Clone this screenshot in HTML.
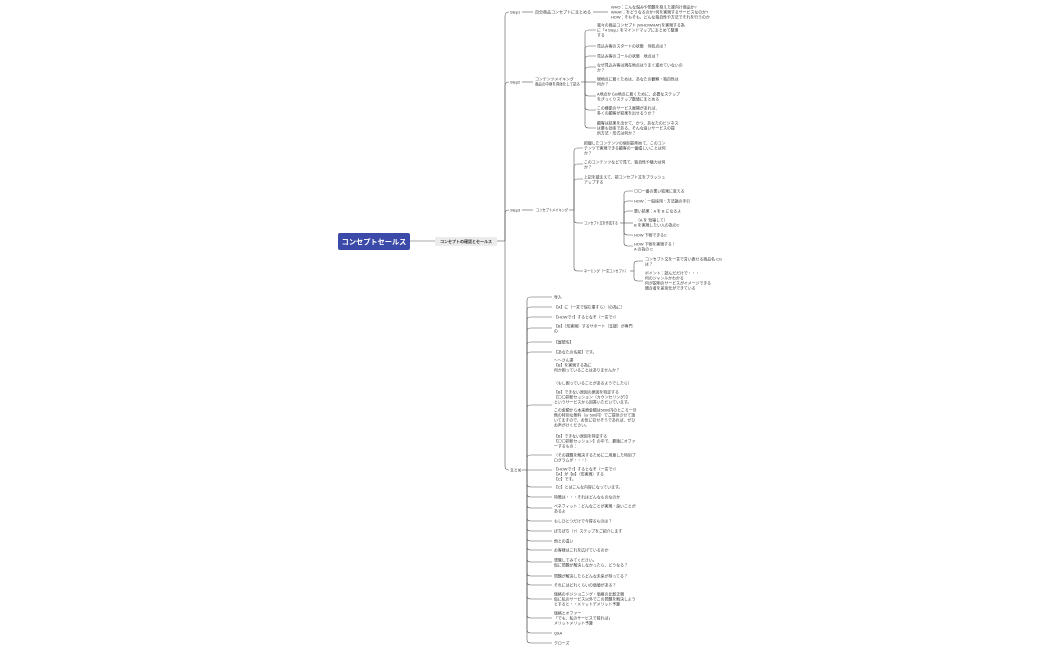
<!DOCTYPE html>
<html><head><meta charset="utf-8"><style>
html,body{margin:0;padding:0;background:#fff;width:1050px;height:650px;overflow:hidden}
svg text{font-family:"Liberation Sans","Noto Sans CJK JP",sans-serif;font-size:3.9px;fill:#333}
</style></head><body>
<svg width="1050" height="650" viewBox="0 0 1050 650" xmlns="http://www.w3.org/2000/svg">
<g fill="none" stroke="#555" stroke-width="0.6">
<path d="M410,241 H435"/>
<path d="M497,241 H505"/>
<path d="M505,241 V16 Q505,12 509,12"/>
<path d="M505,241 V86 Q505,82 509,82"/>
<path d="M505,241 V214 Q505,210 509,210"/>
<path d="M505,241 V466 Q505,470 509,470"/>
<path d="M522,12 H533"/><path d="M593,12 H608"/>
<path d="M522,82 H533"/><path d="M581,82 H585"/>
<g>
<path d="M585,82 V33 Q585,30 589,30 H596"/>
<path d="M585,82 V49 Q585,46 589,46 H596"/>
<path d="M585,82 V59 Q585,56 589,56 H596"/>
<path d="M585,82 V70 Q585,67 589,67 H596"/>
<path d="M585,82 H596"/>
<path d="M585,82 V93 Q585,96 589,96 H596"/>
<path d="M585,82 V107 Q585,110 589,110 H596"/>
<path d="M585,82 V125 Q585,128 589,128 H596"/>
</g>
<path d="M522,210 H533"/><path d="M569,210 H574"/>
<path d="M574,210 V151 Q574,148 578,148 H583"/>
<path d="M574,210 V167 Q574,164 578,164 H583"/>
<path d="M574,210 V182 Q574,179 578,179 H583"/>
<path d="M574,210 V220 Q574,223 578,223 H583"/>
<path d="M574,210 V268 Q574,271 578,271 H583"/>
<path d="M620,223 H624"/>
<path d="M624,223 V194 Q624,191 628,191 H633"/>
<path d="M624,223 V204 Q624,201 628,201 H633"/>
<path d="M624,223 V214 Q624,211 628,211 H633"/>
<path d="M624,223 H633"/>
<path d="M624,223 V232 Q624,235 628,235 H633"/>
<path d="M624,223 V243 Q624,246 628,246 H633"/>
<path d="M630,271 H634"/>
<path d="M634,271 V264 Q634,261 638,261 H643"/>
<path d="M634,271 V278 Q634,281 638,281 H643"/>
<path d="M522,470 H527"/>
<path d="M527,470 V300 Q527,297 531,297 H552"/>
<path d="M527,470 V310 Q527,307 531,307 H552"/>
<path d="M527,470 V320 Q527,317 531,317 H552"/>
<path d="M527,470 V331 Q527,328 531,328 H552"/>
<path d="M527,470 V345 Q527,342 531,342 H552"/>
<path d="M527,470 V355 Q527,352 531,352 H552"/>
<path d="M527,470 V408 Q527,405 531,405 H552"/>
<path d="M527,470 V458 Q527,455 531,455 H552"/>
<path d="M527,470 H552"/>
<path d="M527,470 V484 Q527,487 531,487 H552"/>
<path d="M527,470 V494 Q527,497 531,497 H552"/>
<path d="M527,470 V505 Q527,508 531,508 H552"/>
<path d="M527,470 V518 Q527,521 531,521 H552"/>
<path d="M527,470 V528 Q527,531 531,531 H552"/>
<path d="M527,470 V538 Q527,541 531,541 H552"/>
<path d="M527,470 V547 Q527,550 531,550 H552"/>
<path d="M527,470 V559 Q527,562 531,562 H552"/>
<path d="M527,470 V573 Q527,576 531,576 H552"/>
<path d="M527,470 V582 Q527,585 531,585 H552"/>
<path d="M527,470 V596 Q527,599 531,599 H552"/>
<path d="M527,470 V615 Q527,618 531,618 H552"/>
<path d="M527,470 V630 Q527,633 531,633 H552"/>
<path d="M527,470 V640 Q527,643 531,643 H552"/>
</g>
<rect x="338" y="233" width="72" height="17" rx="2" fill="#3b4aa8"/>
<text x="374" y="244.3" text-anchor="middle" style="font-size:7.2px;fill:#fff;font-weight:bold">コンセプトセールス</text>
<rect x="435" y="237" width="62" height="9" rx="1.5" fill="#ececec"/>
<text x="466" y="242.8" text-anchor="middle" style="font-size:4px;font-weight:bold">コンセプトの確認とセールス</text>
<text x="510" y="13.3">Step1</text>
<text x="535" y="13.3" textLength="56" lengthAdjust="spacingAndGlyphs">自分商品コンセプトにまとめる</text>
<text x="611" y="8.3">WHO：こんな悩みや問題を抱えた誰向け商品か?</text>
<text x="611" y="13.3">WHAT：をどうなるのか?何を実現するサービスなのか?</text>
<text x="611" y="18.3">HOW：そもそも、どんな独自性や方法でそれを行うのか</text>
<text x="510" y="83.3">Step2</text>
<text x="535" y="80.3">コンテンツメイキング</text>
<text x="535" y="85.3" textLength="45" lengthAdjust="spacingAndGlyphs">商品の中身を具体化して詰る</text>
<text x="597" y="26.3">我々の商品コンセプト (WHO/WHAT)を実現する為</text>
<text x="597" y="31.3">に「4 Step」をマインドマップにまとめて整理</text>
<text x="597" y="36.3">する</text>
<text x="597" y="47.3">見込み客のスタートの状態　何処点は？</text>
<text x="597" y="57.3">見込み客のゴールの状態　地点は？</text>
<text x="597" y="66.3">なぜ見込み客は現在地点はうまく進めていないの</text>
<text x="597" y="71.3">か？</text>
<text x="597" y="80.3">現地点に着くためは、あなたの観察・独自性は</text>
<text x="597" y="85.3">何か？</text>
<text x="597" y="95.3">A地点からB地点に着くために、必要なステップ</text>
<text x="597" y="100.3">をざっくりステップ数値にまとめる</text>
<text x="597" y="109.3">この機能のサービス展開があれば、</text>
<text x="597" y="114.3">多くの顧客が結果を出せるうか？</text>
<text x="597" y="124.3">顧客は結果を出せて、かつ、あなたのビジネス</text>
<text x="597" y="129.3">は最も効率である、そんな良いサービスの提</text>
<text x="597" y="134.3">供方法・形式は何か？</text>
<text x="510" y="211.3">Step3</text>
<text x="536" y="211.3" textLength="32" lengthAdjust="spacingAndGlyphs">コンセプトメイキング</text>
<text x="584" y="144.3">把握したコンテンツの個別説明めて、このコン</text>
<text x="584" y="149.3">テンツで実現できる顧客の一番嬉しいことは何</text>
<text x="584" y="154.3">か？</text>
<text x="584" y="163.3">このコンテンツなどで見て、独自性や魅力は何</text>
<text x="584" y="168.3">か？</text>
<text x="584" y="178.3">上記を踏まえて、前コンセプト文をブラッシュ</text>
<text x="584" y="183.3">アップする</text>
<text x="584" y="224.3" textLength="34" lengthAdjust="spacingAndGlyphs">コンセプト文を作成する</text>
<text x="634" y="192.3">〇〇一番の悪い結果に変える</text>
<text x="634" y="202.3">HOW：一般採用・方法論の手引</text>
<text x="634" y="212.3">悪い結果：A を B になるよ</text>
<text x="636" y="221.3">（A を 短縮して）</text>
<text x="634" y="226.3">B を実現したい人の為のC</text>
<text x="634" y="236.3">HOW 下物できるC</text>
<text x="634" y="245.3">HOW 下物を実現する！</text>
<text x="634" y="250.3">A の為の C</text>
<text x="584" y="272.3" textLength="44" lengthAdjust="spacingAndGlyphs">ネーミング（一言コンセプト）</text>
<text x="645" y="260.3">コンセプト文を一言で言い表せる商品名 CG</text>
<text x="645" y="265.3">は？</text>
<text x="645" y="274.3">ポイント：読んだだけで・・・</text>
<text x="645" y="279.3">何のジャンルかわかる</text>
<text x="645" y="284.3">何が説明のサービスがイメージできる</text>
<text x="645" y="289.3">競合者を差別化ができている</text>
<text x="510" y="471.3">まとめ</text>
<text x="554" y="298.3">导入</text>
<text x="554" y="308.3">【A】に（一言で悩む事すら）（の為に）</text>
<text x="554" y="318.3">【HOWで?】するとなぞ（一言で?）</text>
<text x="554" y="327.3">【B】（形実現）するサポート（支援）が専門</text>
<text x="554" y="332.3">の</text>
<text x="554" y="343.3">【屋號名】</text>
<text x="554" y="353.3">【あなたの名前】です。</text>
<text x="554" y="361.3">〜〜さん達</text>
<text x="554" y="366.3">【B】を実現する為に</text>
<text x="554" y="371.3">何か困っていることはありませんか？</text>
<text x="554" y="384.3">（もし困っていることがあるようでしたら）</text>
<text x="554" y="393.3">【B】できない原因の原因を特定する</text>
<text x="554" y="398.3">【〇〇診断セッション（カウンセリング）】</text>
<text x="554" y="403.3">というサービスから回答いただいています。</text>
<text x="554" y="411.3">この金額から本来療金額は5000円のところ一旦</text>
<text x="554" y="416.3">無の特別な無料（or 500円）でご提供させて頂</text>
<text x="554" y="421.3">いてますので、お気に召せそうであれば、ぜひ</text>
<text x="554" y="426.3">お声がけください。</text>
<text x="554" y="437.3">【B】できない原因を特定する</text>
<text x="554" y="442.3">【〇〇診断セッション】の中で、最後にオファ</text>
<text x="554" y="447.3">ーするもの：</text>
<text x="554" y="456.3">（その課題を解決するために二用意した特別プ</text>
<text x="554" y="461.3">ログラムが・・・）</text>
<text x="554" y="470.3">【HOWで?】するとなぞ（一言で?）</text>
<text x="554" y="475.3">【A】が【B】（形実現）する</text>
<text x="554" y="480.3">【C】です。</text>
<text x="554" y="488.3">【C】とはこんな内容になっています。</text>
<text x="554" y="498.3">特徴は・・・それはどんなものなのか</text>
<text x="554" y="507.3">ベネフィット：どんなことが実現・良いことが</text>
<text x="554" y="512.3">あるよ</text>
<text x="554" y="522.3">もしひとつだけで今得るものは？</text>
<text x="554" y="532.3">ぼちぼち（7）ステップをご紹介します</text>
<text x="554" y="542.3">他との違い</text>
<text x="554" y="551.3">お客様はこれを広げているのか</text>
<text x="554" y="561.3">想像してみてください。</text>
<text x="554" y="566.3">仮に問題が解決しなかったら、どうなる？</text>
<text x="554" y="577.3">問題が解決したらどんな未来が待ってる？</text>
<text x="554" y="586.3">それにはどれくらいの価値がある？</text>
<text x="554" y="595.3">価格のポジショニング・価格の比較正親</text>
<text x="554" y="600.3">仮に私のサービス以外でこの問題を解決しよう</text>
<text x="554" y="605.3">とすると・・メリットデメリット予算</text>
<text x="554" y="614.3">価格とオファー</text>
<text x="554" y="619.3">「でも、私のサービスで前れば」</text>
<text x="554" y="624.3">メリットメリット予算</text>
<text x="554" y="634.3">Q&amp;A</text>
<text x="554" y="644.3">クローズ</text>
</svg>
</body></html>
